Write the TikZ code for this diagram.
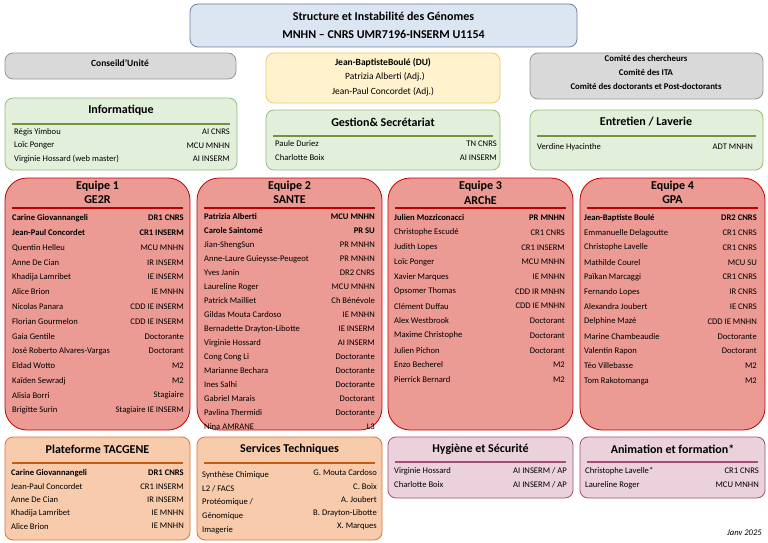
\documentclass[tikz,border=0pt]{standalone}
\usepackage{fontspec}
\setmainfont{Carlito}
\definecolor{titlefill}{RGB}{220,230,242}
\definecolor{titledraw}{RGB}{110,130,160}
\definecolor{greyfill}{RGB}{217,217,217}
\definecolor{greydraw}{RGB}{150,150,150}
\definecolor{yelfill}{RGB}{255,242,204}
\definecolor{yeldraw}{RGB}{240,200,110}
\definecolor{grnfill}{RGB}{226,239,218}
\definecolor{grndraw}{RGB}{150,190,120}
\definecolor{grnline}{RGB}{118,146,60}
\definecolor{redfill}{RGB}{236,154,148}
\definecolor{reddraw}{RGB}{192,0,0}
\definecolor{orafill}{RGB}{248,203,173}
\definecolor{oradraw}{RGB}{214,120,60}
\definecolor{orline}{RGB}{197,90,17}
\definecolor{pnkfill}{RGB}{234,209,220}
\definecolor{pnkdraw}{RGB}{166,77,121}
\tikzset{
  box/.style={rounded corners=8pt, line width=0.8pt},
  greybox/.style={box, fill=greyfill, draw=greydraw},
  grnbox/.style={box, fill=grnfill, draw=grndraw},
  teambox/.style={rounded corners=22pt, line width=0.8pt, fill=redfill, draw=reddraw},
  orabox/.style={box, fill=orafill, draw=oradraw},
  pnkbox/.style={box, fill=pnkfill, draw=pnkdraw},
  head/.style={font=\fontsize{12}{13}\selectfont\bfseries, inner sep=0pt},
  txt/.style={font=\fontsize{8.6}{10}\selectfont, inner sep=0pt},
  memname/.style={txt, anchor=west},
  memrole/.style={txt, anchor=east}
}
% names and roles in two columns
\newcommand{\members}[6]{%
  \foreach \n/\r [count=\i] in {#6}{%
    \node[memname] (#1n\i) at (#2,#4+\i*#5-#5) {\n};
    \node[memrole] (#1r\i) at (#3,#4+\i*#5-#5) {\r};
  }}
\begin{document}
\begin{tikzpicture}[x=1pt,y=-1pt]
\useasboundingbox (0,0) rectangle (768,543);

%% top row
\draw[box, fill=titlefill, draw=titledraw] (190,4) rectangle (577,47);
\node[head] (title1) at (383.5,16) {Structure et Instabilité des Génomes};
\node[head] (title2) at (383.5,34) {MNHN – CNRS UMR7196-INSERM U1154};

\draw[greybox] (5,53) rectangle (236,79);
\node[txt, font=\fontsize{9.5}{11}\selectfont\bfseries] (conseil) at (120,63) {Conseild’Unité};

\draw[box, fill=yelfill, draw=yeldraw] (266,53) rectangle (500,103);
\node[txt, font=\fontsize{9.5}{11}\selectfont\bfseries] (du) at (383,63) {Jean-BaptisteBoulé (DU)};
\node[txt, font=\fontsize{9.5}{11}\selectfont] (adj1) at (385,77) {Patrizia Alberti (Adj.)};
\node[txt, font=\fontsize{9.5}{11}\selectfont] (adj2) at (383,92) {Jean-Paul Concordet (Adj.)};

\draw[greybox] (530,53) rectangle (763,99);
\node[txt, font=\fontsize{8.8}{10}\selectfont\bfseries] (com1) at (646,58) {Comité des chercheurs};
\node[txt, font=\fontsize{8.8}{10}\selectfont\bfseries] (com2) at (646,72) {Comité des ITA};
\node[txt, font=\fontsize{8.8}{10}\selectfont\bfseries] (com3) at (646,86) {Comité des doctorants et Post-doctorants};

%% services
\draw[grnbox] (5,98) rectangle (237,170);
\node[head] (info) at (121,110) {Informatique};
\draw[grnline, line width=1.5pt] (12,124) -- (230,124);
\members{inf}{14}{230}{132}{13.5}{Régis Yimbou/AI CNRS, Loïc Ponger/MCU MNHN, Virginie Hossard (web master)/AI INSERM}

\draw[grnbox] (266,110) rectangle (500,170);
\node[head] (gest) at (383,122) {Gestion\& Secrétariat};
\draw[grnline, line width=1.5pt] (273,136) -- (493,136);
\members{ges}{275}{497}{144}{14}{Paule Duriez/TN CNRS, Charlotte Boix/AI INSERM}

\draw[grnbox] (530,110) rectangle (763,170);
\node[head] (entr) at (646,122) {Entretien / Laverie};
\draw[grnline, line width=1.5pt] (537,136) -- (756,136);
\members{ent}{537}{753}{147}{14}{Verdine Hyacinthe/ADT MNHN}

%% teams
\foreach \x/\t/\s in {5/Equipe 1/GE2R, 197/Equipe 2/SANTE, 388/Equipe 3/ARChE, 580/Equipe 4/GPA}{
  \draw[teambox] (\x,178) rectangle (\x+185,430);
  \node[head] (eq\s) at (\x+92.5,186) {\t};
  \node[head] (te\s) at (\x+92.5,200) {\s};
  \draw[reddraw, line width=1.2pt] (\x+7,208) -- (\x+178,208);
}
\members{a}{12}{184}{218}{14.8}{\textbf{Carine Giovannangeli}/\textbf{DR1 CNRS}, \textbf{Jean-Paul Concordet}/\textbf{CR1 INSERM}, Quentin Helleu/MCU MNHN, Anne De Cian/IR  INSERM, Khadija Lamribet/IE  INSERM, Alice Brion/IE MNHN, Nicolas Panara/CDD IE INSERM, Florian Gourmelon/CDD IE INSERM, Gaia Gentile/Doctorante, José Roberto Alvares-Vargas/Doctorant, Eldad Wotto/M2, Kaïden Sewradj/M2, Alisia Borri/Stagiaire, Brigitte Surin/Stagiaire IE INSERM}
\members{b}{204}{375}{217}{14}{\textbf{Patrizia Alberti}/\textbf{MCU MNHN}, \textbf{Carole Saintomé}/\textbf{PR SU}, Jian-ShengSun/PR MNHN, Anne-Laure Guieysse-Peugeot/PR MNHN, Yves Janin/DR2 CNRS, Laureline Roger/MCU MNHN, Patrick Mailliet/Ch Bénévole, Gildas Mouta Cardoso/IE  MNHN, Bernadette Drayton-Libotte/IE  INSERM, Virginie Hossard/AI INSERM, Cong Cong Li/Doctorante, Marianne Bechara/Doctorante, Ines Salhi/Doctorante, Gabriel Marais/Doctorant, Pavlina Thermidi/Doctorante, Nina AMRANE/L3}
\members{c}{394}{565}{218}{14.7}{\textbf{Julien Mozziconacci}/\textbf{PR MNHN}, Christophe Escudé/CR1 CNRS, Judith Lopes/CR1 INSERM, Loïc Ponger/MCU MNHN, Xavier Marques/IE MNHN, Opsomer Thomas/CDD IR MNHN, Clément Duffau/CDD IE MNHN, Alex Westbrook/Doctorant, Maxime Christophe/Doctorant, Julien Pichon/Doctorant, Enzo Becherel/M2, Pierrick Bernard/M2}
\members{d}{584}{757}{218}{14.8}{\textbf{Jean-Baptiste Boulé}/\textbf{DR2 CNRS}, Emmanuelle Delagoutte/CR1 CNRS, Christophe Lavelle/CR1 CNRS, Mathilde Courel/MCU SU, Païkan Marcaggi/CR1 CNRS, Fernando Lopes/IR CNRS, Alexandra Joubert/IE CNRS, Delphine Mazé/CDD IE MNHN, Marine Chambeaudie/Doctorante, Valentin Rapon/Doctorant, Téo Villebasse/M2, Tom Rakotomanga/M2}

%% bottom row
\draw[orabox] (5,437) rectangle (190,540);
\node[head] (plat) at (97.5,449) {Plateforme TACGENE};
\draw[orline, line width=1.5pt] (12,463) -- (183,463);
\members{p}{11}{184}{473}{13.3}{\textbf{Carine Giovannangeli}/\textbf{DR1 CNRS}, Jean-Paul Concordet/CR1 INSERM, Anne De Cian/IR INSERM, Khadija Lamribet/IE MNHN, Alice Brion/IE MNHN}

\draw[orabox] (197,437) rectangle (382,540);
\node[head] (serv) at (289.5,449) {Services Techniques};
\draw[orline, line width=1.5pt] (204,463) -- (375,463);
\foreach \n [count=\i] in {Synthèse Chimique, L2 / FACS, Protéomique /, Génomique, Imagerie}
  \node[memname] (sn\i) at (202,475+\i*13.8-13.8) {\n};
\foreach \r [count=\i] in {G. Mouta Cardoso, C. Boix, A. Joubert, B. Drayton-Libotte, X. Marques}
  \node[memrole] (sr\i) at (377,473+\i*13.3-13.3) {\r};

\draw[pnkbox] (388,437) rectangle (573,498);
\node[head] (hyg) at (480.5,449) {Hygiène et Sécurité};
\draw[pnkdraw, line width=1.5pt] (395,462) -- (566,462);
\members{h}{394}{567}{471}{14}{Virginie Hossard/{AI INSERM / AP}, Charlotte Boix/{AI INSERM / AP}}

\draw[pnkbox] (580,437) rectangle (765,498);
\node[head] (anim) at (672.5,449) {Animation et formation*};
\draw[pnkdraw, line width=1.5pt] (587,462) -- (758,462);
\members{f}{585}{759}{471}{14}{Christophe Lavelle*/CR1 CNRS, Laureline Roger/MCU MNHN}

\node[txt, font=\fontsize{8.6}{10}\selectfont\itshape, anchor=east] (date) at (762,533) {Janv 2025};
\end{tikzpicture}
\end{document}
